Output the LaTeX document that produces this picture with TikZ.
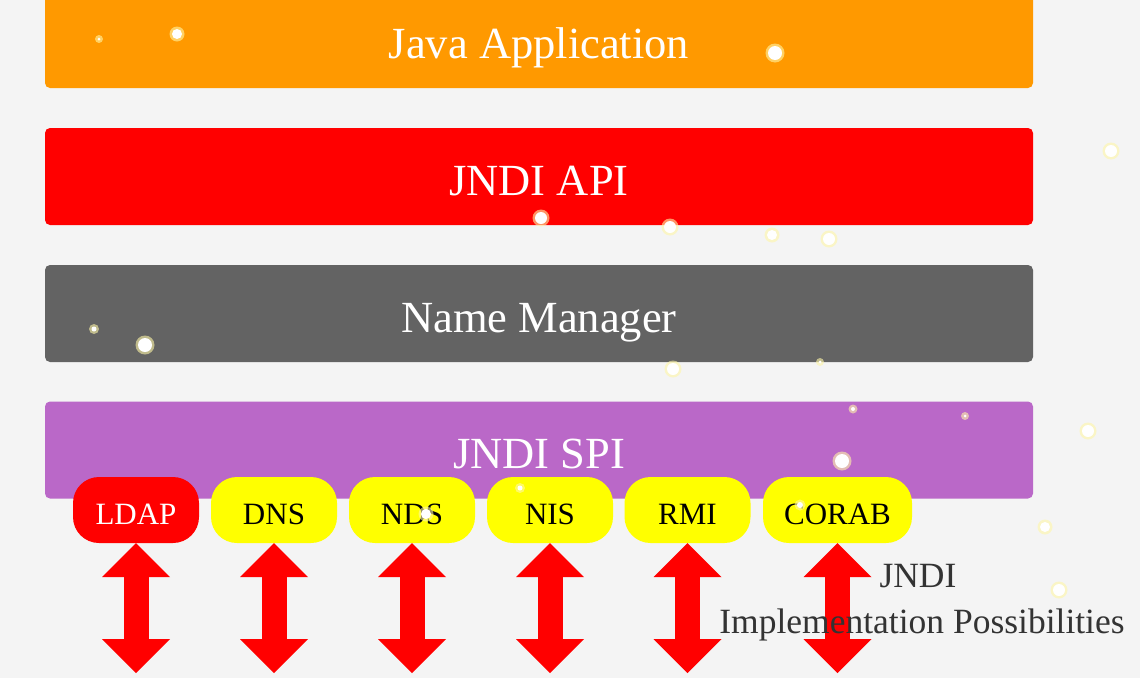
\documentclass[tikz,border=0pt]{standalone}
\usepackage{fontspec}
\setmainfont{Liberation Serif}
\usetikzlibrary{arrows.meta}
\definecolor{bgc}{HTML}{F4F4F4}
\definecolor{appc}{HTML}{FF9900}
\definecolor{apic}{HTML}{FF0000}
\definecolor{mgrc}{HTML}{636363}
\definecolor{spic}{HTML}{BA68C8}
\definecolor{pillc}{HTML}{FFFF00}
\definecolor{notec}{HTML}{333333}
\definecolor{glowc}{HTML}{FFF7A8}
\tikzset{
  bar/.style={rectangle, rounded corners=5pt, minimum width=988pt, minimum height=97pt, inner sep=0pt, text height=37pt, text depth=0pt, text=white, font=\fontsize{44.5}{50}\selectfont},
  pill/.style={rectangle, rounded corners=26pt, minimum width=126pt, minimum height=66pt, inner sep=0pt, text height=28.6pt, text depth=0pt, fill=pillc, text=black, font=\fontsize{31}{36}\selectfont},
  dblarrow/.style={draw=apic, line width=25pt, {Triangle[width=68pt,length=34pt,line width=0pt]}-{Triangle[width=68pt,length=34pt,line width=0pt]}},
  note/.style={text=notec, align=center, font=\fontsize{35.5}{46}\selectfont, inner sep=0pt},
}
\newcommand{\glowdot}[3]{%
  \fill[glowc, opacity=0.6] (#1,#2) circle (#3pt+2.5pt);
  \fill[white] (#1,#2) circle (#3pt);}
\begin{document}
\begin{tikzpicture}[x=1pt,y=-1pt]
\useasboundingbox (0,0) rectangle (1140,678);
\clip (0,0) rectangle (1140,678);
\fill[bgc] (0,0) rectangle (1140,678);
% bars
\node[bar, fill=appc] (app) at (539,39.5) {Java Application};
\node[bar, fill=apic] (api) at (539,176.5) {JNDI API};
\node[bar, fill=mgrc] (mgr) at (539,313.5) {Name Manager};
\node[bar, fill=spic] (spi) at (539,450) {JNDI SPI};
% pills
\node[pill, fill=apic, text=white] (ldap) at (136,510) {LDAP};
\node[pill] (dns) at (274,510) {DNS};
\node[pill] (nds) at (412,510) {NDS};
\node[pill] (nis) at (550,510) {NIS};
\node[pill] (rmi) at (687.5,510) {RMI};
\node[pill, minimum width=149pt] (corab) at (837.5,510) {CORAB};
% arrow ends
\coordinate (ldapend) at (136,673);
\coordinate (dnsend) at (274,673);
\coordinate (ndsend) at (412,673);
\coordinate (nisend) at (550,673);
\coordinate (rmiend) at (687.5,673);
\coordinate (corabend) at (837.5,673);
\draw[dblarrow] (ldap.south) -- (ldapend);
\draw[dblarrow] (dns.south) -- (dnsend);
\draw[dblarrow] (nds.south) -- (ndsend);
\draw[dblarrow] (nis.south) -- (nisend);
\draw[dblarrow] (rmi.south) -- (rmiend);
\draw[dblarrow] (corab.south) -- (corabend);
% note
\node[note] (impl) at (922,603) {\hspace*{-8pt}JNDI\\Implementation Possibilities};
% decorative dots
\glowdot{99}{39}{1.5}
\glowdot{177}{34}{5}
\glowdot{775}{53}{7}
\glowdot{1111}{151}{6}
\glowdot{541}{218}{6}
\glowdot{670}{227}{6}
\glowdot{772}{235}{5}
\glowdot{829}{239}{6}
\glowdot{94}{329}{2.5}
\glowdot{145}{345}{7}
\glowdot{673}{369}{6}
\glowdot{820}{362}{1.5}
\glowdot{853}{409}{2}
\glowdot{965}{416}{1.5}
\glowdot{1088}{431}{6}
\glowdot{842}{461}{7}
\glowdot{520}{488}{2.5}
\glowdot{426}{514}{5}
\glowdot{800}{505}{3}
\glowdot{1045}{527}{5}
\glowdot{1059}{590}{6}
\end{tikzpicture}
\end{document}
